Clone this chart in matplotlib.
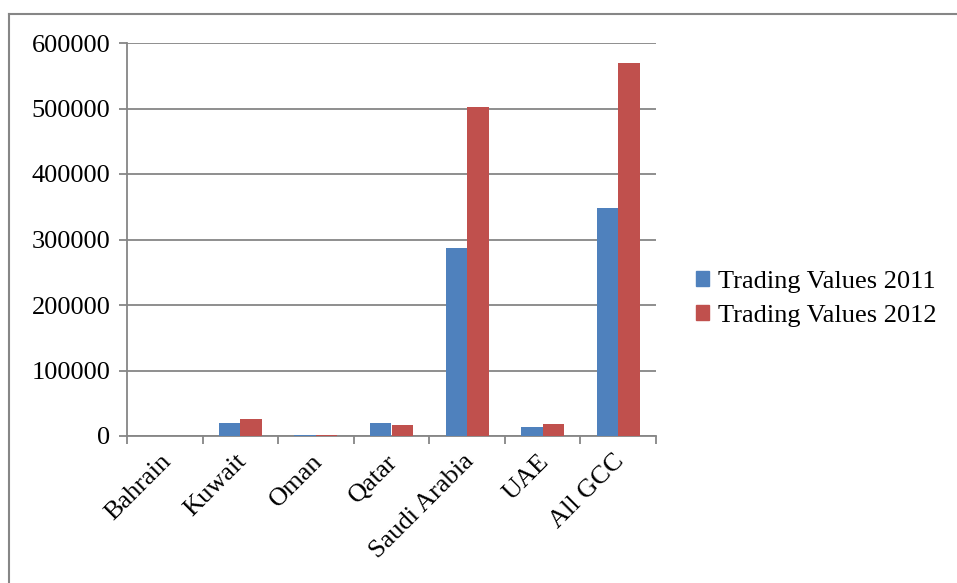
import matplotlib
matplotlib.use("Agg")
import matplotlib.pyplot as plt
import matplotlib.transforms as mtransforms
import numpy as np
from matplotlib.lines import Line2D

categories = ["Bahrain", "Kuwait", "Oman", "Qatar", "Saudi Arabia", "UAE", "All GCC"]
values_2011 = [300, 19900, 1500, 20400, 286700, 14200, 347400]
values_2012 = [300, 25500, 1800, 16400, 501600, 18400, 569400]
series_labels = ["Trading Values 2011", "Trading Values 2012"]
y_ticks = [0, 100000, 200000, 300000, 400000, 500000, 600000]

blue = "#4F81BD"
red = "#C0504D"
grid_grey = "#868686"
fs = 19

plt.rcParams["font.family"] = ["Liberation Serif", "DejaVu Serif"]

fig = plt.figure(figsize=(9.57, 5.83), dpi=100)
W, H = 957, 583
ax = fig.add_axes([127 / W, 1 - 436 / H, (656 - 127) / W, (436 - 43) / H])

x = np.arange(len(categories))
bw = 0.285
ax.bar(x - bw / 2, values_2011, bw, color=blue, label=series_labels[0], zorder=3)
ax.bar(x + bw / 2, values_2012, bw, color=red, label=series_labels[1], zorder=3)

ax.set_xlim(-0.5, len(categories) - 0.5)
ax.set_ylim(0, 600000)
ax.set_yticks(y_ticks)
ax.set_yticklabels([str(v) for v in y_ticks], fontsize=fs)
ax.yaxis.grid(True, color=grid_grey, linewidth=1.3, zorder=0)
ax.set_axisbelow(True)

ax.set_xticks(x)
ax.set_xticklabels(categories, rotation=45, ha="right", va="center",
                   rotation_mode="anchor", fontsize=fs)
ax.tick_params(axis="x", length=0, pad=16)
shift = mtransforms.ScaledTranslation(3 / 100, 0, fig.dpi_scale_trans)
for lbl in ax.get_xticklabels():
    lbl.set_transform(lbl.get_transform() + shift)
ax.set_xticks(np.arange(-0.5, len(categories), 1.0), minor=True)
ax.tick_params(axis="x", which="minor", length=6, color=grid_grey, width=1.3)
ax.tick_params(axis="y", length=6, color=grid_grey, width=1.3, pad=6)

for side in ["top", "right"]:
    ax.spines[side].set_visible(False)
for side in ["left", "bottom"]:
    ax.spines[side].set_color(grid_grey)
    ax.spines[side].set_linewidth(1.3)

handles = [plt.Rectangle((0, 0), 1, 1, color=blue), plt.Rectangle((0, 0), 1, 1, color=red)]
fig.legend(handles, series_labels, loc="center left", bbox_to_anchor=(696 / W, 1 - 299 / H),
           frameon=False, fontsize=fs, handlelength=0.48, handleheight=0.48,
           handletextpad=0.36, labelspacing=0.45, borderaxespad=0, borderpad=0)

# chart frame (left and top edges)
fig.add_artist(Line2D([8.5 / W, 8.5 / W], [0, 1 - 13.5 / H], color=grid_grey, linewidth=1.5,
                      transform=fig.transFigure))
fig.add_artist(Line2D([8.5 / W, 1], [1 - 13.5 / H, 1 - 13.5 / H], color=grid_grey, linewidth=1.5,
                      transform=fig.transFigure))

fig.savefig("out.png", dpi=100)
